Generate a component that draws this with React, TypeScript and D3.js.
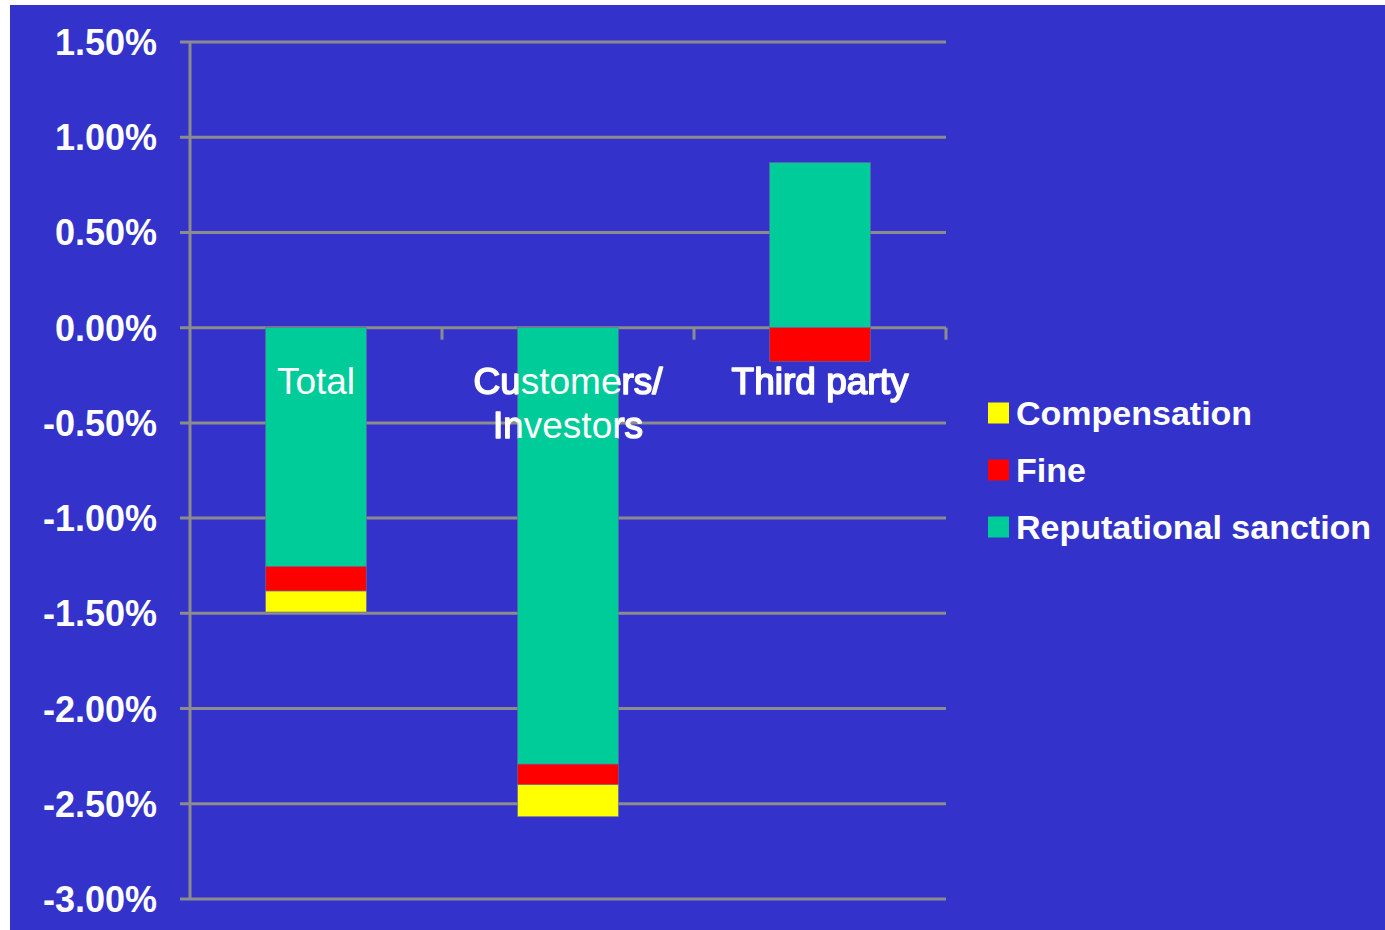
import React from "react";
import * as d3 from "d3";

const categories = ["Total", "Customers/\nInvestors", "Third party"];
const reputational = [-0.01255, -0.02292, 0.00867];
const fine = [-0.00128, -0.00108, -0.00177];
const compensation = [-0.0011, -0.00168, 0];
const yTicks = [0.015, 0.01, 0.005, 0, -0.005, -0.01, -0.015, -0.02, -0.025, -0.03];
const seriesNames = ["Reputational sanction", "Fine", "Compensation"];
const seriesColors = ["#00CC99", "#FF0000", "#FFFF00"];
const legendOrder = ["Compensation", "Fine", "Reputational sanction"];

const W = 1385, H = 930;
const FONT = "'Liberation Sans', Arial, sans-serif";

export default function App() {
  const x = d3.scaleBand<string>().domain(categories).range([190, 946]).paddingInner(0.6).paddingOuter(0.3);
  const y = d3.scaleLinear().domain([-0.03, 0.015]).range([899, 42]);
  const rows = categories.map((c, i) => ({
    cat: c,
    "Reputational sanction": reputational[i],
    Fine: fine[i],
    Compensation: compensation[i],
  }));
  const stack = d3.stack<any>().keys(seriesNames).offset(d3.stackOffsetDiverging);
  const layers = stack(rows);
  const fmt = (v: number) => (v * 100).toFixed(2) + "%";
  const grid = "#8C8C8C";
  const bars: { x: number; y: number; w: number; h: number; fill: string }[] = [];
  layers.forEach((layer, li) => {
    layer.forEach((d: any) => {
      const y0 = y(d[0]), y1 = y(d[1]);
      if (Math.abs(y0 - y1) < 0.01) return;
      bars.push({
        x: x(d.data.cat)!,
        y: Math.min(y0, y1),
        w: x.bandwidth(),
        h: Math.abs(y0 - y1),
        fill: seriesColors[li],
      });
    });
  });
  const [xl, xr] = x.range();
  const catLabel = (stroke: boolean) =>
    categories.map((c) => {
      const lines = c.split("\n");
      const cx = x(c)! + x.bandwidth() / 2;
      return (
        <text key={c} x={cx} y={394} textAnchor="middle" fill="#fff" fontSize={37} fontFamily={FONT}
          stroke={stroke ? "#fff" : "none"} strokeWidth={stroke ? 1.6 : 0} strokeLinejoin="round">
          {lines.map((l, i) => (
            <tspan key={i} x={cx} dy={i === 0 ? 0 : 44}>{l}</tspan>
          ))}
        </text>
      );
    });
  return (
    <svg width={W} height={H} style={{ position: "absolute", left: 0, top: 0 }}>
      <rect x={0} y={0} width={W} height={H} fill="#fff" />
      <rect x={10} y={5} width={W - 10} height={H - 5} fill="#3333CC" />
      <defs>
        <mask id="outsideBars">
          <rect x={0} y={0} width={W} height={H} fill="#fff" />
          {bars.map((b, i) => (
            <rect key={i} x={b.x} y={b.y} width={b.w} height={b.h} fill="#000" />
          ))}
        </mask>
      </defs>
      {yTicks.map((t) => (
        <g key={t}>
          <line x1={xl - 10} x2={xr} y1={y(t)} y2={y(t)} stroke={grid} strokeWidth={3} />
          <text x={157} y={y(t)} dy="0.36em" textAnchor="end" fill="#fff" fontSize={36} fontWeight="bold" fontFamily={FONT}>
            {fmt(t)}
          </text>
        </g>
      ))}
      <line x1={xl} x2={xl} y1={y(0.015)} y2={y(-0.03)} stroke={grid} strokeWidth={3} />
      {categories.map((c) => {
        const xe = x(c)! - (x.step() * x.paddingInner()) / 2 + x.step();
        return <line key={c} x1={xe} x2={xe} y1={y(0)} y2={y(0) + 12} stroke={grid} strokeWidth={3} />;
      })}
      {bars.map((b, i) => (
        <rect key={i} x={b.x} y={b.y} width={b.w} height={b.h} fill={b.fill} stroke="#6a6aa0" strokeWidth={0.6} />
      ))}
      <g>{catLabel(false)}</g>
      <g mask="url(#outsideBars)">{catLabel(true)}</g>
      {legendOrder.map((name, i) => {
        const color = seriesColors[seriesNames.indexOf(name)];
        const cy = 413 + i * 57;
        return (
          <g key={name}>
            <rect x={988} y={cy - 10.5} width={21} height={21} fill={color} />
            <text x={1016} y={cy} dy="0.36em" fill="#fff" fontSize={34} fontWeight="bold" fontFamily={FONT}>
              {name}
            </text>
          </g>
        );
      })}
    </svg>
  );
}
